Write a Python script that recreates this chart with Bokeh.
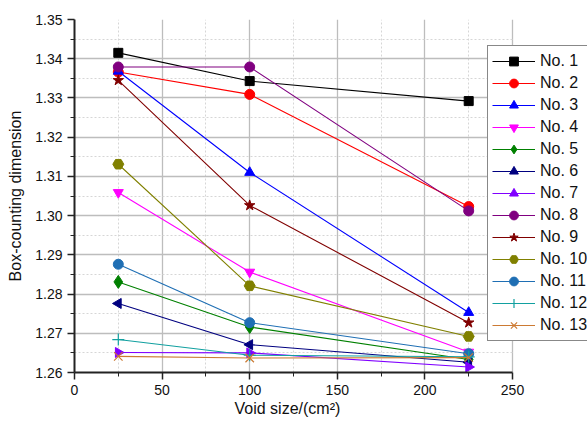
import math
from bokeh.plotting import figure
from bokeh.models import (Legend, LegendItem, FixedTicker, PrintfTickFormatter, Range1d, Title)
from bokeh.embed import file_html
from bokeh.resources import INLINE

# ---- data ----
void_size = [25, 100, 225]
names = ["No. 1", "No. 2", "No. 3", "No. 4", "No. 5", "No. 6", "No. 7",
         "No. 8", "No. 9", "No. 10", "No. 11", "No. 12", "No. 13"]
no1 = [1.3415, 1.3343, 1.3292]
no2 = [1.3366, 1.3309, 1.3023]
no3 = [1.3368, 1.3110, 1.2753]
no4 = [1.3059, 1.2856, 1.2652]
no5 = [1.2831, 1.2716, 1.2633]
no6 = [1.2776, 1.2671, 1.2626]
no7 = [1.2651, 1.2650, 1.2614]
no8 = [1.3379, 1.3379, 1.3012]
no9 = [1.3345, 1.3026, 1.2727]
no10 = [1.3131, 1.2821, 1.2692]
no11 = [1.2876, 1.2727, 1.2648]
no12 = [1.2684, 1.2644, 1.2640]
no13 = [1.2641, 1.2637, 1.2638]
series = [no1, no2, no3, no4, no5, no6, no7, no8, no9, no10, no11, no12, no13]

x_ticks = [0, 50, 100, 150, 200, 250]
x_minor = [25, 75, 125, 175, 225]
y_ticks = [1.26, 1.27, 1.28, 1.29, 1.30, 1.31, 1.32, 1.33, 1.34, 1.35]
y_minor = [1.265, 1.275, 1.285, 1.295, 1.305, 1.315, 1.325, 1.335, 1.345]
x_lo, x_hi = 0, 250
y_lo, y_hi = 1.26, 1.35
x_title = "Void size/(cm\u00b2)"
y_title = "Box-counting dimension"

# ---- styles ----
colors = ["#000000", "#FF0000", "#0000FF", "#FF00FF", "#008000", "#000080",
          "#8000FF", "#800080", "#800000", "#808000", "#1F6FB4", "#12A0A0", "#CC7A33"]
markers = ["square", "circle", "triangle", "inverted_triangle", "diamond", "triangle",
           "triangle", "circle", "star", "hex", "circle", "cross", "x"]
angles = [0, 0, 0, 0, 0, math.pi / 2, -math.pi / 2, 0, 0, 0, 0, 0, 0]
sizes = [9, 10, 10, 10, 13, 10, 10, 10, 11, 11, 10, 10, 10]

# plot frame spans to the window's right edge so the legend can overhang;
# the data axis itself ends at x_hi (438 px of a 513 px frame)
FRAME_W, AXIS_W = 513, 438
p = figure(width=587, height=430, output_backend="svg", toolbar_location=None,
           x_range=Range1d(x_lo, x_hi * FRAME_W / AXIS_W), y_range=Range1d(y_lo, y_hi),
           min_border_left=74, min_border_right=0, min_border_top=19, min_border_bottom=58)
p.outline_line_color = None

FONT = "Liberation Sans"
p.xaxis.ticker = FixedTicker(ticks=x_ticks, minor_ticks=x_minor)
p.yaxis.ticker = FixedTicker(ticks=y_ticks, minor_ticks=y_minor)
p.yaxis.formatter = PrintfTickFormatter(format="%.2f")
p.xaxis.bounds = (x_lo, x_hi)
for ax in (p.xaxis[0], p.yaxis[0]):
    ax.axis_line_color = "#222222"
    ax.axis_line_width = 2
    ax.major_tick_line_color = "#222222"
    ax.major_tick_line_width = 1.5
    ax.minor_tick_line_color = "#222222"
    ax.major_tick_out = 7
    ax.major_tick_in = 0
    ax.minor_tick_out = 4
    ax.minor_tick_in = 0
    ax.major_label_text_font = FONT
    ax.major_label_text_font_size = "14px"
    ax.major_label_text_color = "#111111"
    ax.axis_label_text_font = FONT
    ax.axis_label_text_font_size = "16px"
    ax.axis_label_text_font_style = "normal"
    ax.axis_label_text_color = "#111111"
p.yaxis.axis_label = y_title
p.yaxis.axis_label_standoff = 8

# x-axis title placed under the middle of the data axis (not the wider frame)
xt = Title(text=x_title, align="left", offset=160,
           text_font=FONT, text_font_size="16px", text_font_style="normal",
           text_color="#111111", standoff=0)
p.add_layout(xt, "below")

for g in (p.xgrid[0], p.ygrid[0]):
    g.grid_line_color = "#BDBDBD"
    g.grid_line_width = 1.3
    g.minor_grid_line_color = "#D6D6D6"
    g.minor_grid_line_dash = "2 2"
    g.minor_grid_line_width = 1
p.ygrid[0].cross_bounds = (x_lo, x_hi)

items = []
for name, ys, c, m, a, s in zip(names, series, colors, markers, angles, sizes):
    ln = p.line(void_size, ys, line_color=c, line_width=1.1)
    if m in ("cross", "x"):
        sc = p.scatter(void_size, ys, marker=m, size=s + 2, line_color=c, line_width=1.2,
                       fill_color=None)
    else:
        sc = p.scatter(void_size, ys, marker=m, size=s, angle=a, line_color=c,
                       fill_color=c)
    items.append(LegendItem(label=name, renderers=[ln, sc]))

legend = Legend(items=items, location=(413, 31))
legend.border_line_color = "#111111"
legend.border_line_width = 1.5
legend.background_fill_color = "white"
legend.background_fill_alpha = 1
legend.label_text_font = FONT
legend.label_text_font_size = "16px"
legend.label_text_color = "#111111"
legend.glyph_width = 43
legend.glyph_height = 22
legend.label_height = 22
legend.spacing = 0
legend.padding = 4
legend.margin = 0
legend.label_standoff = 5
p.add_layout(legend)

open("out.html", "w").write(file_html(p, INLINE))
